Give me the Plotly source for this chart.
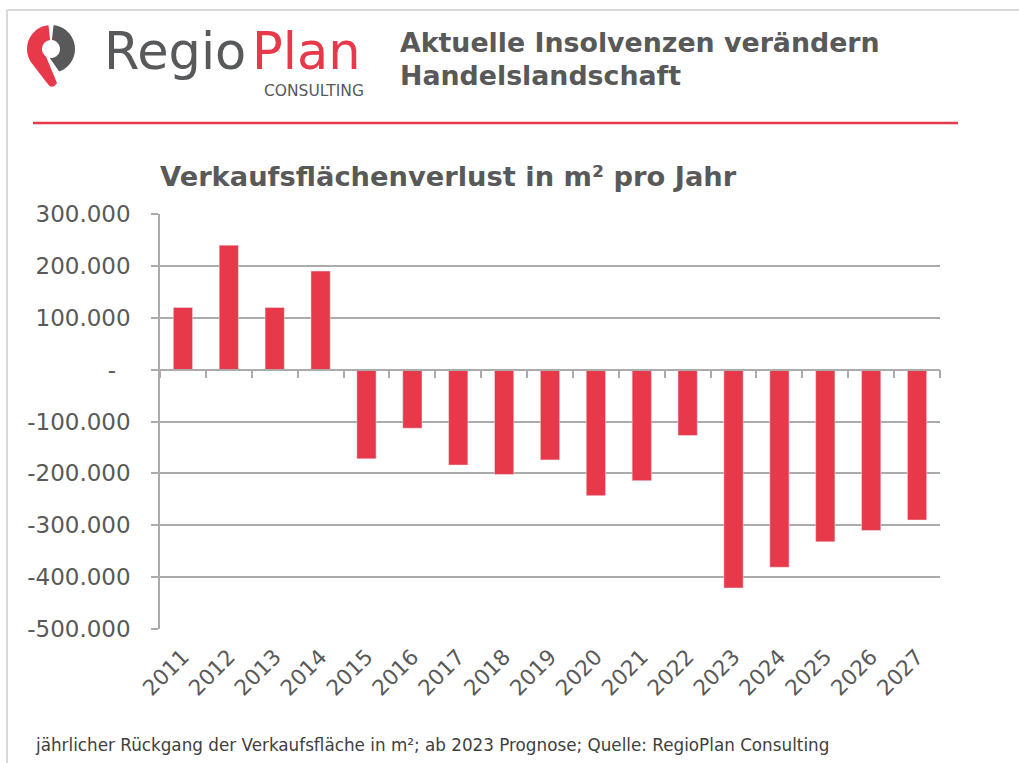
import math
import plotly.graph_objects as go

# ---------------- data ----------------
years = ["2011", "2012", "2013", "2014", "2015", "2016", "2017", "2018", "2019",
         "2020", "2021", "2022", "2023", "2024", "2025", "2026", "2027"]
verlust_m2 = [120000, 240000, 120000, 190000, -172000, -113000, -184000, -202000, -174000,
              -243000, -214000, -127000, -421000, -381000, -332000, -310000, -290000]
y_tickvals = [300000, 200000, 100000, 0, -100000, -200000, -300000, -400000, -500000]
y_ticktext = ["300.000", "200.000", "100.000", "-\u00a0\u00a0", "-100.000", "-200.000",
              "-300.000", "-400.000", "-500.000"]
y_range = [-500000, 300000]

header_line1 = "Aktuelle Insolvenzen verändern"
header_line2 = "Handelslandschaft"
chart_title = "Verkaufsflächenverlust in m² pro Jahr"
footnote = "jährlicher Rückgang der Verkaufsfläche in m²; ab 2023 Prognose; Quelle: RegioPlan Consulting"

# ---------------- style ----------------
W, H = 1019, 763
PL, PR, PT, PB = 160, 940, 214, 629
RED = "#E8394A"
GRAY_TXT = "#595959"
LOGO_GRAY = "#58595B"
GRID = "#ABABAB"
FONT = "DejaVu Sans"


def px(x):
    return (x - PL) / (PR - PL)


def py(y):
    return (PB - y) / (PB - PT)


fig = go.Figure()
fig.add_trace(go.Bar(x=years, y=verlust_m2, marker=dict(color=RED, line=dict(width=0)),
                     hoverinfo="x+y"))
# invisible copy on the zero-line axis so that axis is drawn with its ticks
fig.add_trace(go.Bar(x=years, y=verlust_m2, xaxis="x2", marker=dict(color="rgba(0,0,0,0)"),
                     hoverinfo="skip"))

zero_pos = (0 - y_range[0]) / (y_range[1] - y_range[0])

fig.update_layout(
    width=W, height=H,
    margin=dict(l=PL, r=W - PR, t=PT, b=H - PB, pad=0),
    plot_bgcolor="white", paper_bgcolor="white",
    bargap=0.58, showlegend=False,
    xaxis=dict(type="category", tickangle=-45, showline=False, ticks="", showgrid=False,
               tickfont=dict(family=FONT, size=21.5, color=GRAY_TXT), ticklabelstandoff=10),
    xaxis2=dict(type="category", overlaying="x", matches="x", anchor="free", position=zero_pos,
                showline=True, linecolor=GRID, linewidth=1.5, ticks="outside", ticklen=8,
                tickwidth=1.5, tickcolor=GRID, tickson="boundaries", showticklabels=False,
                showgrid=False, side="bottom"),
    yaxis=dict(range=y_range, tickvals=y_tickvals, ticktext=y_ticktext, showline=True,
               linecolor=GRID, linewidth=1.5, ticks="outside", ticklen=7, tickwidth=1.5,
               tickcolor=GRID, showgrid=True, gridcolor=GRID, gridwidth=1.5, zeroline=False,
               tickfont=dict(family=FONT, size=23, color=GRAY_TXT), ticklabelstandoff=16),
)

# ---------------- frame & separator ----------------
shapes = [
    dict(type="line", xref="paper", yref="paper", x0=px(7), x1=px(W), y0=py(10), y1=py(10),
         line=dict(color="#D9D9D9", width=2)),
    dict(type="line", xref="paper", yref="paper", x0=px(7), x1=px(7), y0=py(10), y1=py(H),
         line=dict(color="#D9D9D9", width=2)),
    dict(type="line", xref="paper", yref="paper", x0=px(33), x1=px(958), y0=py(123), y1=py(123),
         line=dict(color=RED, width=2.5)),
]

# ---------------- logo pin ----------------
cx, cy, R, r = 51, 49, 24, 9


def pt(radius, ang):
    a = math.radians(ang)
    return (cx + radius * math.cos(a), cy - radius * math.sin(a))


def arc(radius, a0, a1, n=24):
    return [pt(radius, a0 + (a1 - a0) * i / n) for i in range(n + 1)]


def path_from(points):
    s = "M " + " L ".join(f"{px(x):.5f},{py(y):.5f}" for x, y in points) + " Z"
    return s


red_pts = arc(R, 96, 212) + [(47, 83), (50, 86.5), (54, 86.5), (57, 83)] + arc(r, 236, 96)
gray_pts = arc(R, 84, -70) + arc(r, -98, 84)
shapes.append(dict(type="path", xref="paper", yref="paper", path=path_from(red_pts),
                   fillcolor=RED, line=dict(width=0)))
shapes.append(dict(type="path", xref="paper", yref="paper", path=path_from(gray_pts),
                   fillcolor=LOGO_GRAY, line=dict(width=0)))
fig.update_layout(shapes=shapes)

# ---------------- texts ----------------
ann = [
    dict(text="Regio", x=px(102), y=py(52), xanchor="left", yanchor="middle",
         font=dict(family=FONT, size=51, color=LOGO_GRAY)),
    dict(text="Plan", x=px(250), y=py(52), xanchor="left", yanchor="middle",
         font=dict(family=FONT, size=51, color=RED)),
    dict(text="CONSULTING", x=px(262), y=py(91), xanchor="left", yanchor="middle",
         font=dict(family=FONT, size=15.5, color=LOGO_GRAY)),
    dict(text=f"<b>{header_line1}</b>", x=px(398), y=py(43), xanchor="left", yanchor="middle",
         font=dict(family=FONT, size=26.8, color=GRAY_TXT)),
    dict(text=f"<b>{header_line2}</b>", x=px(398), y=py(75), xanchor="left", yanchor="middle",
         font=dict(family=FONT, size=26.8, color=GRAY_TXT)),
    dict(text=f"<b>{chart_title}</b>", x=px(158), y=py(176), xanchor="left", yanchor="middle",
         font=dict(family=FONT, size=27.3, color=GRAY_TXT)),
    dict(text=footnote, x=px(33), y=py(745), xanchor="left", yanchor="middle",
         font=dict(family=FONT, size=16.8, color="#404040")),
]
for a in ann:
    a.update(xref="paper", yref="paper", showarrow=False)
fig.update_layout(annotations=ann)

fig.write_html("out.html")
